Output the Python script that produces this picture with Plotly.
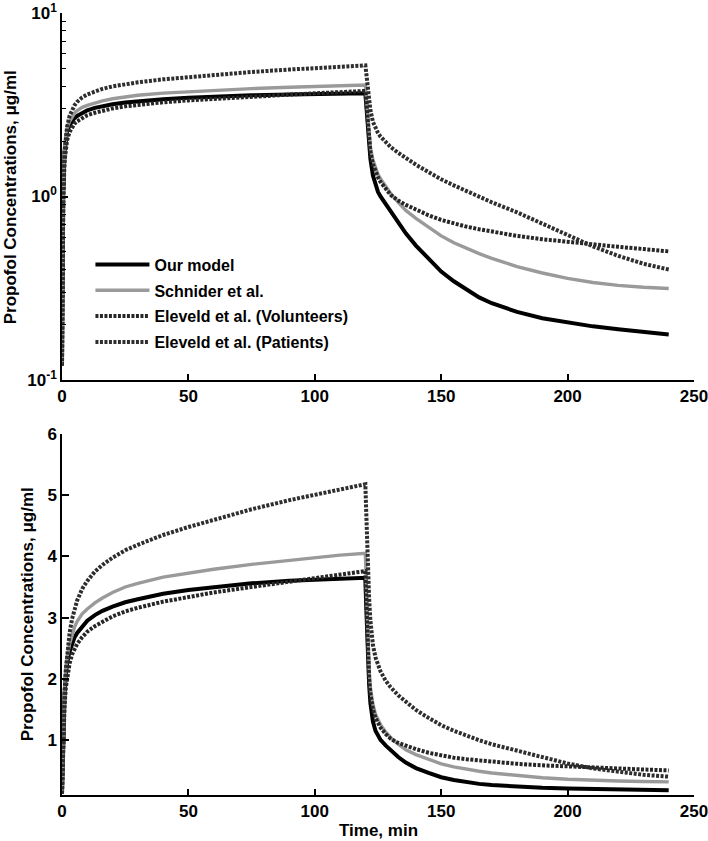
import plotly.graph_objects as go

# ---- data ----
time = [0, 0.25, 0.5, 1, 1.5, 2, 3, 4, 5, 6, 8, 10, 13, 16, 20, 25, 30, 40, 50, 60, 75, 90,
        100, 110, 120,
        120.25, 120.5, 121, 121.5, 122, 123, 124, 125, 126, 128, 130, 133, 136, 140, 145,
        150, 155, 160, 165, 170, 180, 190, 200, 210, 220, 230, 240]

our_model = [0.12, 0.6, 1.05, 1.75, 2.05, 2.25, 2.45, 2.58, 2.68, 2.75, 2.86, 2.95, 3.04,
             3.11, 3.18, 3.25, 3.3, 3.39, 3.45, 3.5, 3.56, 3.6, 3.62, 3.64, 3.65,
             3.3, 2.95, 2.35, 1.9, 1.6, 1.3, 1.15, 1.06, 1.0, 0.91, 0.83, 0.72, 0.63, 0.54,
             0.46, 0.39, 0.345, 0.31, 0.282, 0.262, 0.235, 0.217, 0.205, 0.196, 0.189,
             0.183, 0.177]

schnider = [0.12, 0.65, 1.15, 1.85, 2.15, 2.35, 2.57, 2.73, 2.85, 2.94, 3.06, 3.14, 3.24,
            3.32, 3.41, 3.5, 3.56, 3.66, 3.73, 3.79, 3.87, 3.94, 3.98, 4.02, 4.05,
            3.65, 3.25, 2.6, 2.15, 1.85, 1.58, 1.42, 1.32, 1.25, 1.13, 1.04, 0.93, 0.84,
            0.76, 0.68, 0.61, 0.56, 0.52, 0.488, 0.46, 0.415, 0.383, 0.358, 0.34, 0.328,
            0.32, 0.315]

eleveld_volunteers = [0.12, 0.55, 0.95, 1.55, 1.85, 2.02, 2.25, 2.4, 2.5, 2.57, 2.68, 2.77,
                      2.86, 2.93, 3.02, 3.1, 3.16, 3.26, 3.34, 3.41, 3.5, 3.59, 3.65, 3.71,
                      3.76,
                      3.4, 3.05, 2.45, 2.0, 1.75, 1.5, 1.36, 1.27, 1.2, 1.1, 1.02, 0.95, 0.9,
                      0.85, 0.79, 0.745, 0.71, 0.685, 0.663, 0.645, 0.61, 0.585, 0.565,
                      0.548, 0.532, 0.517, 0.502]

eleveld_patients = [0.12, 0.6, 1.05, 1.75, 2.15, 2.4, 2.75, 2.98, 3.15, 3.28, 3.47, 3.6,
                    3.75, 3.86, 3.98, 4.1, 4.19, 4.35, 4.48, 4.6, 4.77, 4.92, 5.01, 5.1,
                    5.18,
                    4.85, 4.5, 3.85, 3.3, 2.95, 2.55, 2.35, 2.22, 2.12, 1.97, 1.86, 1.73,
                    1.62, 1.49, 1.36, 1.24, 1.15, 1.07, 0.995, 0.93, 0.82, 0.71, 0.615,
                    0.535, 0.475, 0.43, 0.40]

series_names = ["Our model", "Schnider et al.", "Eleveld et al. (Volunteers)",
                "Eleveld et al. (Patients)"]
x_ticks = [0, 50, 100, 150, 200, 250]
log_ticks = [0.1, 1, 10]
log_tick_text = ["10<sup>-1</sup>", "10<sup>0</sup>", "10<sup>1</sup>"]
log_minor = [0.2, 0.3, 0.4, 0.5, 0.6, 0.7, 0.8, 0.9, 2, 3, 4, 5, 6, 7, 8, 9]
lin_ticks = [1, 2, 3, 4, 5, 6]
y_title = "Propofol Concentrations, \u03bcg/ml"
x_title = "Time, min"

series = [our_model, schnider, eleveld_volunteers, eleveld_patients]
styles = [
    dict(color="#000000", width=4, dash="solid"),
    dict(color="#9a9a9a", width=3.4, dash="solid"),
    dict(color="#262626", width=4, dash="3px,1.5px"),
    dict(color="#2e2e2e", width=4, dash="3px,1.5px"),
]

FONT = "Liberation Sans, Arial, sans-serif"

fig = go.Figure()
for i, (name, ys, st) in enumerate(zip(series_names, series, styles)):
    fig.add_trace(go.Scatter(x=time, y=ys, mode="lines", name=name, line=st,
                             xaxis="x", yaxis="y", legendgroup=f"g{i}", showlegend=True))
for i, (name, ys, st) in enumerate(zip(series_names, series, styles)):
    fig.add_trace(go.Scatter(x=time, y=ys, mode="lines", name=name, line=st,
                             xaxis="x2", yaxis="y2", legendgroup=f"g{i}", showlegend=False))

tickfont = dict(family=FONT, size=17, color="black", weight="bold")
titlefont = dict(family=FONT, size=17, color="black", weight="bold")

common_x = dict(range=[0, 250], tickvals=x_ticks, showline=True, linecolor="black",
                linewidth=1.5, ticks="inside", ticklen=6, tickwidth=1.5, tickcolor="black",
                showgrid=False, zeroline=False, tickfont=tickfont, mirror=False,
                automargin=False, ticklabeloverflow="allow")

fig.update_layout(
    template="none",
    width=708, height=841,
    margin=dict(l=62, r=14, t=13, b=46),
    paper_bgcolor="white", plot_bgcolor="white",
    font=dict(family=FONT, color="black"),
    xaxis=dict(domain=[0, 1], anchor="y", **common_x),
    yaxis=dict(domain=[0.5307, 1], anchor="x", type="log", range=[-1, 1],
               tickvals=log_ticks, ticktext=log_tick_text, automargin=False,
               ticklabeloverflow="allow",
               showline=True, linecolor="black", linewidth=1.5,
               ticks="inside", ticklen=6, tickwidth=1.5, tickcolor="black",
               minor=dict(tickvals=log_minor, ticks="inside", ticklen=4, tickwidth=1.2,
                          tickcolor="black", showgrid=False),
               showgrid=False, zeroline=False, tickfont=tickfont),
    xaxis2=dict(domain=[0, 1], anchor="y2", **common_x),
    yaxis2=dict(domain=[0, 0.4616], anchor="x2", range=[0.1, 6], tickvals=lin_ticks,
                automargin=False, ticklabeloverflow="allow",
                showline=True, linecolor="black", linewidth=1.5,
                ticks="inside", ticklen=7, tickwidth=1.5, tickcolor="black",
                showgrid=False, zeroline=False, tickfont=tickfont),
    legend=dict(x=0.045, y=0.70, xanchor="left", yanchor="top",
                bgcolor="rgba(0,0,0,0)", itemwidth=54, tracegroupgap=2,
                font=dict(family=FONT, size=16, color="black", weight="bold")),
    annotations=[
        dict(text=y_title, textangle=-90, xref="paper", yref="paper", x=-0.0815, y=0.765,
             xanchor="center", yanchor="middle", showarrow=False, font=titlefont),
        dict(text=y_title, textangle=-90, xref="paper", yref="paper", x=-0.0554, y=0.231,
             xanchor="center", yanchor="middle", showarrow=False, font=titlefont),
        dict(text=x_title, xref="paper", yref="paper", x=0.5, y=-0.0448,
             xanchor="center", yanchor="middle", showarrow=False, font=titlefont),
    ],
)

# remove the browser's default 8px body margin so the figure fills the window
fig.write_html("out.html", config={"displayModeBar": False},
               post_script="document.body.style.margin='0';")
